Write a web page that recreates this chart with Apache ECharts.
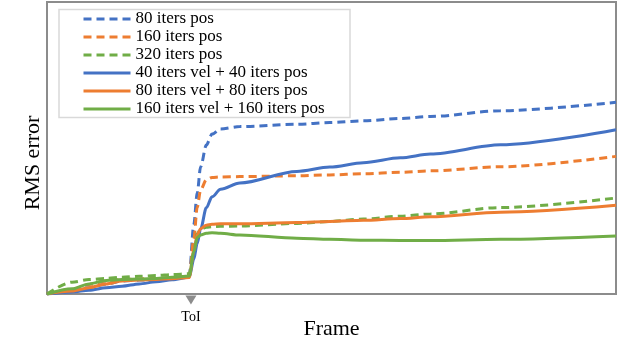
<!DOCTYPE html>
<html>
<head>
<meta charset="utf-8">
<script src="https://cdn.jsdelivr.net/npm/echarts@6/dist/echarts.min.js"></script>
<style>
html,body{margin:0;padding:0;background:#fff;}
#chart{width:621px;height:345px;}
</style>
</head>
<body>
<div id="chart"></div>
<script>
// Frame positions (0..100 across the plotted range)
const frames = [0, 4.4, 7.4, 10.4, 13.2, 16.2, 19.2, 22, 25, 25.8, 26.4, 27, 28, 29, 30.5, 33.9, 43.9, 49.7, 55.6, 62.1, 67.4, 79.7, 100];
const toiFrame = 25.3;

const names = [
  '80 iters pos',
  '160 iters pos',
  '320 iters pos',
  '40 iters vel + 40 iters pos',
  '80 iters vel + 80 iters pos',
  '160 iters vel + 160 iters pos'
];

const pos80        = [0, 1.0, 2.2, 3.5, 4.5, 4.8, 5.0, 5.4, 6.3, 24, 35, 44, 51.5, 55.3, 57.1, 57.9, 58.7, 59.3, 59.9, 60.7, 61.4, 63.4, 66.3];
const pos160       = [0, 1.6, 3.3, 4.5, 5.0, 5.2, 5.4, 5.7, 6.2, 19, 30, 36, 39.5, 40.3, 40.5, 40.6, 40.9, 41.2, 41.6, 42.1, 42.6, 44.0, 47.6];
const pos320       = [0, 4.1, 5.0, 5.4, 5.8, 6.1, 6.4, 6.7, 7.0, 15, 20.8, 22.4, 23.1, 23.3, 23.4, 23.5, 24.4, 25.1, 25.9, 26.9, 27.7, 29.9, 33.2];
const vel40pos40   = [0, 0.7, 1.3, 2.2, 2.7, 3.5, 4.2, 4.9, 5.8, 12, 17.5, 22.5, 29.8, 33.6, 36.2, 38.4, 42.4, 43.9, 45.4, 47.1, 48.4, 51.6, 56.8];
const vel80pos80   = [0, 1.0, 2.2, 3.5, 4.5, 4.8, 5.0, 5.3, 5.7, 15, 20.5, 22.6, 23.8, 24.1, 24.3, 24.3, 24.7, 25.1, 25.5, 26.1, 26.7, 28.3, 30.7];
const vel160pos160 = [0, 1.8, 3.5, 4.7, 5.0, 5.2, 5.4, 5.8, 6.2, 14.5, 19.5, 20.4, 21.0, 21.2, 21.0, 20.4, 19.3, 18.9, 18.6, 18.5, 18.5, 18.9, 20.1];

const seriesValues = [pos80, pos160, pos320, vel40pos40, vel80pos80, vel160pos160];
const colors = ['#4472C4', '#ED7D31', '#70AD47', '#4472C4', '#ED7D31', '#70AD47'];
const dashed = [true, true, true, false, false, false];

const FONT = 'Liberation Serif';

const series = seriesValues.map((vals, i) => {
  const s = {
    name: names[i],
    type: 'line',
    data: frames.map((f, j) => [f, vals[j]]),
    symbol: 'none',
    smooth: 0.3,
    smoothMonotone: 'x',
    color: colors[i],
    lineStyle: {
      color: colors[i],
      width: 3,
      type: dashed[i] ? [8, 5] : 'solid',
      cap: 'butt'
    },
    z: 2 + i
  };
  if (i === 0) {
    s.markPoint = {
      symbol: 'triangle',
      symbolRotate: 180,
      symbolSize: [11, 9],
      symbolOffset: [0, 6],
      silent: true,
      itemStyle: { color: '#8c8c8c' },
      label: {
        show: true,
        position: 'bottom',
        distance: 6,
        formatter: 'ToI',
        color: '#000',
        fontFamily: FONT,
        fontSize: 14
      },
      data: [{ coord: [toiFrame, 0] }]
    };
  }
  return s;
});

const chart = echarts.init(document.getElementById('chart'), null, { renderer: 'canvas' });
chart.setOption({
  animation: false,
  backgroundColor: '#fff',
  grid: {
    left: 47, right: 5, top: 2, bottom: 48,
    show: true, borderColor: '#8c8c8c', borderWidth: 2, backgroundColor: 'transparent'
  },
  xAxis: {
    type: 'value', min: 0, max: 100,
    axisLine: { show: true, lineStyle: { color: '#8c8c8c', width: 2 } },
    axisTick: { show: false }, axisLabel: { show: false }, splitLine: { show: false },
    name: 'Frame', nameLocation: 'middle', nameGap: 24,
    nameTextStyle: { fontFamily: FONT, fontSize: 22, color: '#000' }
  },
  yAxis: {
    type: 'value', min: 0, max: 101,
    axisLine: { show: false }, axisTick: { show: false }, axisLabel: { show: false }, splitLine: { show: false }
  },
  graphic: [{
    type: 'rect', z: 3,
    shape: { x: 59, y: 9.5, width: 291, height: 108 },
    style: { fill: '#fff', stroke: '#d9d9d9', lineWidth: 1.5 }
  }, {
    type: 'text', z: 3,
    x: 33, y: 163, rotation: Math.PI / 2,
    style: { text: 'RMS error', fontFamily: FONT, fontSize: 22, fill: '#000', align: 'center', verticalAlign: 'middle' }
  }],
  legend: {
    orient: 'vertical', left: 82, top: 10, padding: 0,
    itemWidth: 47, itemHeight: 18, itemGap: 0, z: 5,
    itemStyle: { opacity: 0 },
    lineStyle: { width: 3 },
    textStyle: { fontFamily: FONT, fontSize: 17, color: '#000', lineHeight: 18 },
    data: names
  },
  series: series
});
</script>
</body>
</html>
